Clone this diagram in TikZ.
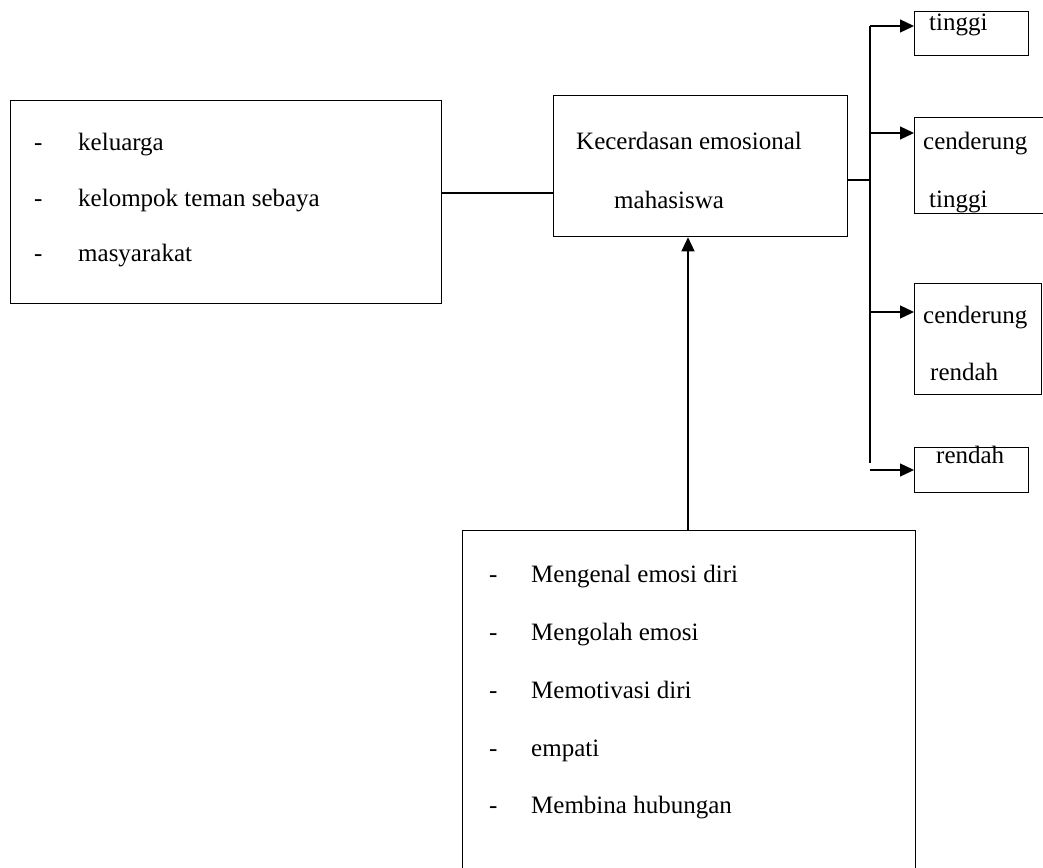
\documentclass[tikz,border=0pt]{standalone}
\usepackage{fontspec}
\setmainfont{Liberation Serif}
\usetikzlibrary{arrows.meta}
\begin{document}
\begin{tikzpicture}[x=1pt,y=-1pt,
  box/.style={draw,line width=1.3pt,rectangle,inner sep=0pt,anchor=north west},
  txt/.style={anchor=base west,inner sep=0pt,font=\fontsize{25}{30}\selectfont},
  conn/.style={line width=1.3pt},
  arr/.style={line width=1.3pt,-{Triangle[length=14pt,width=13pt]}}]
\useasboundingbox (0,0) rectangle (1043,867);
% boxes
\node[box,minimum width=431pt,minimum height=203pt] (L) at (10,100) {};
\node[box,minimum width=294pt,minimum height=141pt] (M) at (553,95) {};
\node[box,minimum width=114pt,minimum height=44pt] (R1) at (914,11) {};
\node[box,minimum width=140pt,minimum height=96pt] (R2) at (914,117) {};
\node[box,minimum width=127pt,minimum height=111pt] (R3) at (914,283) {};
\node[box,minimum width=114pt,minimum height=45pt] (R4) at (914,447) {};
\node[box,minimum width=453pt,minimum height=360pt] (B) at (462,530) {};
% left texts
\node[txt] (l1d) at (34,150) {-};
\node[txt] (l1) at (78,150) {keluarga};
\node[txt] (l2d) at (34,206) {-};
\node[txt] (l2) at (78,206) {kelompok teman sebaya};
\node[txt] (l3d) at (34,261) {-};
\node[txt] (l3) at (78,261) {masyarakat};
% middle texts
\node[txt] (m1) at (576,149) {Kecerdasan emosional};
\node[txt] (m2) at (614,208) {mahasiswa};
% right texts
\node[txt] (r1) at (929,31) {tinggi};
\node[txt] (r2a) at (923,149) {cenderung};
\node[txt] (r2b) at (929,207) {tinggi};
\node[txt] (r3a) at (923,323) {cenderung};
\node[txt] (r3b) at (930,380) {rendah};
\node[txt] (r4) at (936,463) {rendah};
% bottom texts
\node[txt] (b1d) at (489,582) {-};
\node[txt] (b1) at (531,582) {Mengenal emosi diri};
\node[txt] (b2d) at (489,640) {-};
\node[txt] (b2) at (531,640) {Mengolah emosi};
\node[txt] (b3d) at (489,698) {-};
\node[txt] (b3) at (531,698) {Memotivasi diri};
\node[txt] (b4d) at (489,756) {-};
\node[txt] (b4) at (531,756) {empati};
\node[txt] (b5d) at (489,813) {-};
\node[txt] (b5) at (531,813) {Membina hubungan};
% connectors
\coordinate (lm) at (0,193);
\draw[conn] (L.east |- lm) -- (M.west |- lm);
\coordinate (bus) at (870,180);
\coordinate (bustop) at (870,26);
\coordinate (busbot) at (870,463);
\coordinate (a2) at (870,133);
\coordinate (a3) at (870,312);
\coordinate (a4) at (870,470);
\draw[conn] (M.east |- bus) -- (bus);
\draw[conn] (bustop) -- (busbot);
\draw[arr] (bustop) -- (R1.west |- bustop);
\draw[arr] (a2) -- (R2.west |- a2);
\draw[arr] (a3) -- (R3.west |- a3);
\draw[arr] (a4) -- (R4.west |- a4);
\coordinate (up) at (688,0);
\draw[arr] (B.north -| up) -- (M.south -| up);
\end{tikzpicture}
\end{document}
